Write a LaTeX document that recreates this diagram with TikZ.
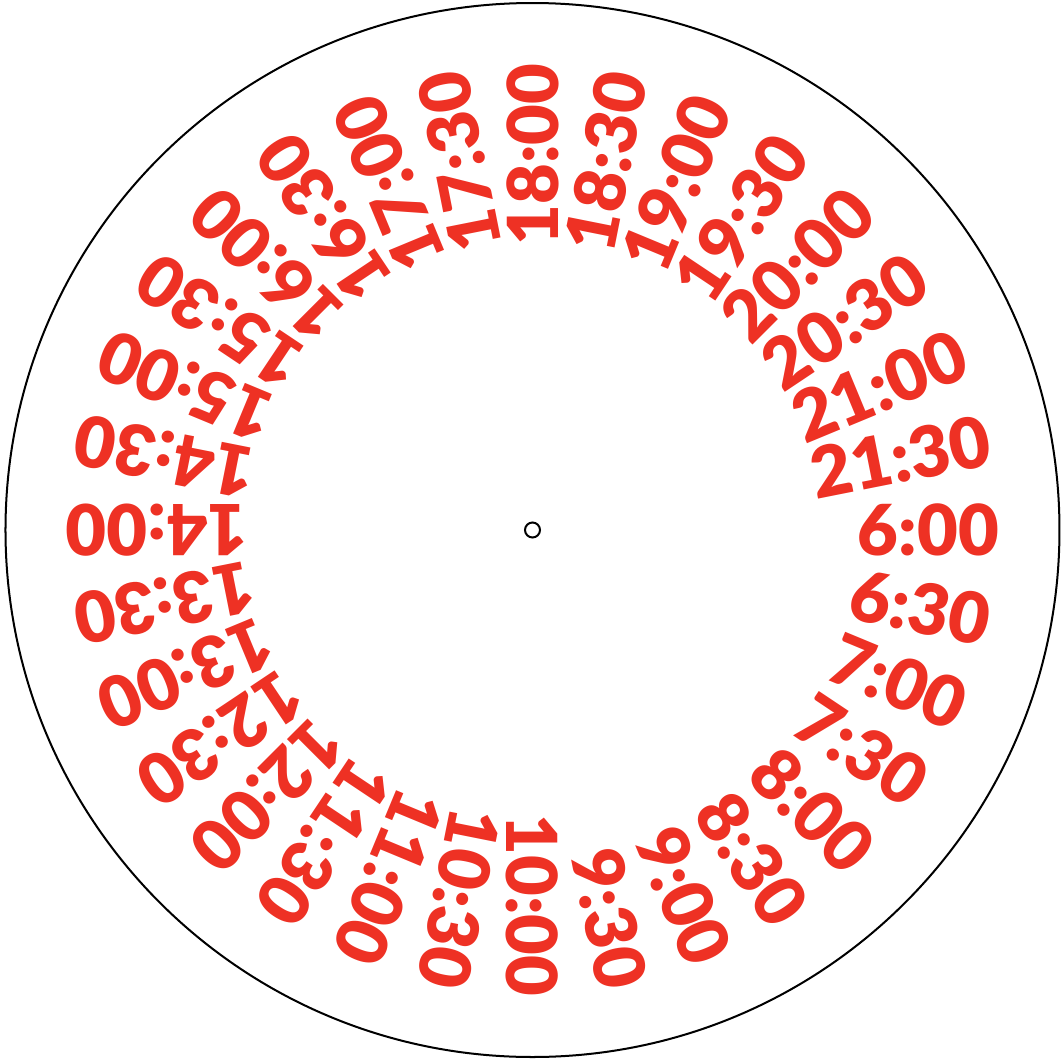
\documentclass[tikz,border=0pt]{standalone}
\usepackage{fontspec}
\setmainfont{Lato}[BoldFont={Lato Black}]
\definecolor{dialred}{HTML}{EE3124}
\tikzset{
  timelabel/.style={anchor=east, inner sep=0pt, text=dialred,
    font=\fontsize{20}{24}\selectfont\bfseries},
  rim/.style={draw=black, line width=0.57pt}
}
\begin{document}
\begin{tikzpicture}

\def\RO{5.27}   % outer rim radius
\def\RT{4.67}   % where the labels end
\def\RC{0.075}  % centre hole

\useasboundingbox (-5.325,-5.31) rectangle (5.315,5.30);

%--- Dial ---
\draw[rim] (0,0) circle (\RO);
\draw[rim] (0,0) circle (\RC);

%--- Half-hour labels, 6:00 at the right, clockwise ---
\foreach \i in {0,...,31} {
  \pgfmathtruncatemacro{\hr}{6+floor(\i/2)}
  \pgfmathsetmacro{\ang}{-11.25*\i}
  \ifodd\i \def\mn{30}\else \def\mn{00}\fi
  \node[timelabel, rotate=\ang] (t\i) at (\ang:\RT) {\hr:\mn};
}

\end{tikzpicture}
\end{document}
